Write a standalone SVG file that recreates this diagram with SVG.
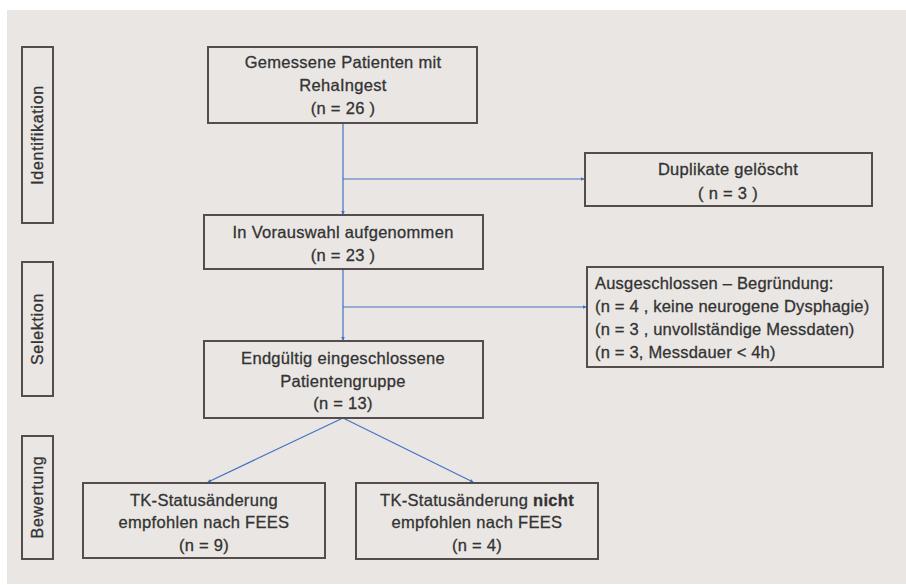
<svg xmlns="http://www.w3.org/2000/svg" width="906" height="585" viewBox="0 0 906 585">
<defs>
<marker id="ah" viewBox="0 0 6 6" refX="5" refY="3" markerWidth="4" markerHeight="4" orient="auto" markerUnits="userSpaceOnUse"><path d="M0,0 L6,3 L0,6 z" fill="#4472c4"/></marker>
<style>
.box{fill:#e9e6e3;stroke:#554d4b;stroke-width:2}
.t,.l,.s{font-family:"Liberation Sans",Arial,sans-serif;fill:#333;stroke:#333;stroke-width:0.3}
.t{font-size:16.5px;letter-spacing:0.3px;text-anchor:middle}
.l{font-size:16.5px;letter-spacing:0.2px}
.s{font-size:16px;letter-spacing:0.7px;text-anchor:middle}
.c{fill:none;stroke:#4472c4;stroke-width:1.2}
</style>
</defs>
<rect x="0" y="0" width="906" height="585" fill="#ffffff"/>
<rect x="7" y="10" width="899" height="574" fill="#e9e6e3"/>

<g id="side-identifikation">
<rect class="box" x="22" y="47" width="31" height="176"/>
<text class="s" transform="translate(43,135) rotate(-90)">Identifikation</text>
</g>
<g id="side-selektion">
<rect class="box" x="22" y="262" width="31" height="134"/>
<text class="s" transform="translate(43,329) rotate(-90)">Selektion</text>
</g>
<g id="side-bewertung">
<rect class="box" x="22" y="436" width="31" height="123"/>
<text class="s" transform="translate(43,497) rotate(-90)">Bewertung</text>
</g>

<g id="connectors">
<line class="c" x1="343" y1="123" x2="343" y2="214" marker-end="url(#ah)"/>
<line class="c" x1="343" y1="179" x2="584" y2="179" marker-end="url(#ah)"/>
<line class="c" x1="343" y1="269" x2="343" y2="340" marker-end="url(#ah)"/>
<line class="c" x1="343" y1="307" x2="586" y2="307" marker-end="url(#ah)"/>
<line class="c" x1="343" y1="418" x2="208" y2="482" marker-end="url(#ah)"/>
<line class="c" x1="343" y1="418" x2="473" y2="482" marker-end="url(#ah)"/>
</g>

<g id="node-gemessene">
<rect class="box" x="208" y="47" width="269" height="76"/>
<text class="t" x="343" y="68">Gemessene Patienten mit</text>
<text class="t" x="343" y="91">RehaIngest</text>
<text class="t" x="343" y="114">(n = 26 )</text>
</g>
<g id="node-duplikate">
<rect class="box" x="585" y="153" width="287" height="53"/>
<text class="t" x="728" y="175">Duplikate gelöscht</text>
<text class="t" x="728" y="199">( n = 3 )</text>
</g>
<g id="node-vorauswahl">
<rect class="box" x="204" y="215" width="279" height="54"/>
<text class="t" x="343" y="238">In Vorauswahl aufgenommen</text>
<text class="t" x="343" y="261">(n = 23 )</text>
</g>
<g id="node-ausgeschlossen">
<rect class="box" x="587" y="267" width="296" height="100"/>
<text class="l" x="595" y="289">Ausgeschlossen – Begründung:</text>
<text class="l" x="595" y="312">(n = 4 , keine neurogene Dysphagie)</text>
<text class="l" x="595" y="335">(n = 3 , unvollständige Messdaten)</text>
<text class="l" x="595" y="358">(n = 3, Messdauer &lt; 4h)</text>
</g>
<g id="node-endgueltig">
<rect class="box" x="204" y="341" width="279" height="77"/>
<text class="t" x="343" y="364">Endgültig eingeschlossene</text>
<text class="t" x="343" y="387">Patientengruppe</text>
<text class="t" x="343" y="409">(n = 13)</text>
</g>
<g id="node-empfohlen">
<rect class="box" x="83" y="483" width="242" height="75"/>
<text class="t" x="204" y="506">TK-Statusänderung</text>
<text class="t" x="204" y="528">empfohlen nach FEES</text>
<text class="t" x="204" y="551">(n = 9)</text>
</g>
<g id="node-nicht-empfohlen">
<rect class="box" x="356" y="483" width="242" height="76"/>
<text class="t" x="477" y="506">TK-Statusänderung <tspan font-weight="bold">nicht</tspan></text>
<text class="t" x="477" y="528">empfohlen nach FEES</text>
<text class="t" x="477" y="551">(n = 4)</text>
</g>
</svg>
